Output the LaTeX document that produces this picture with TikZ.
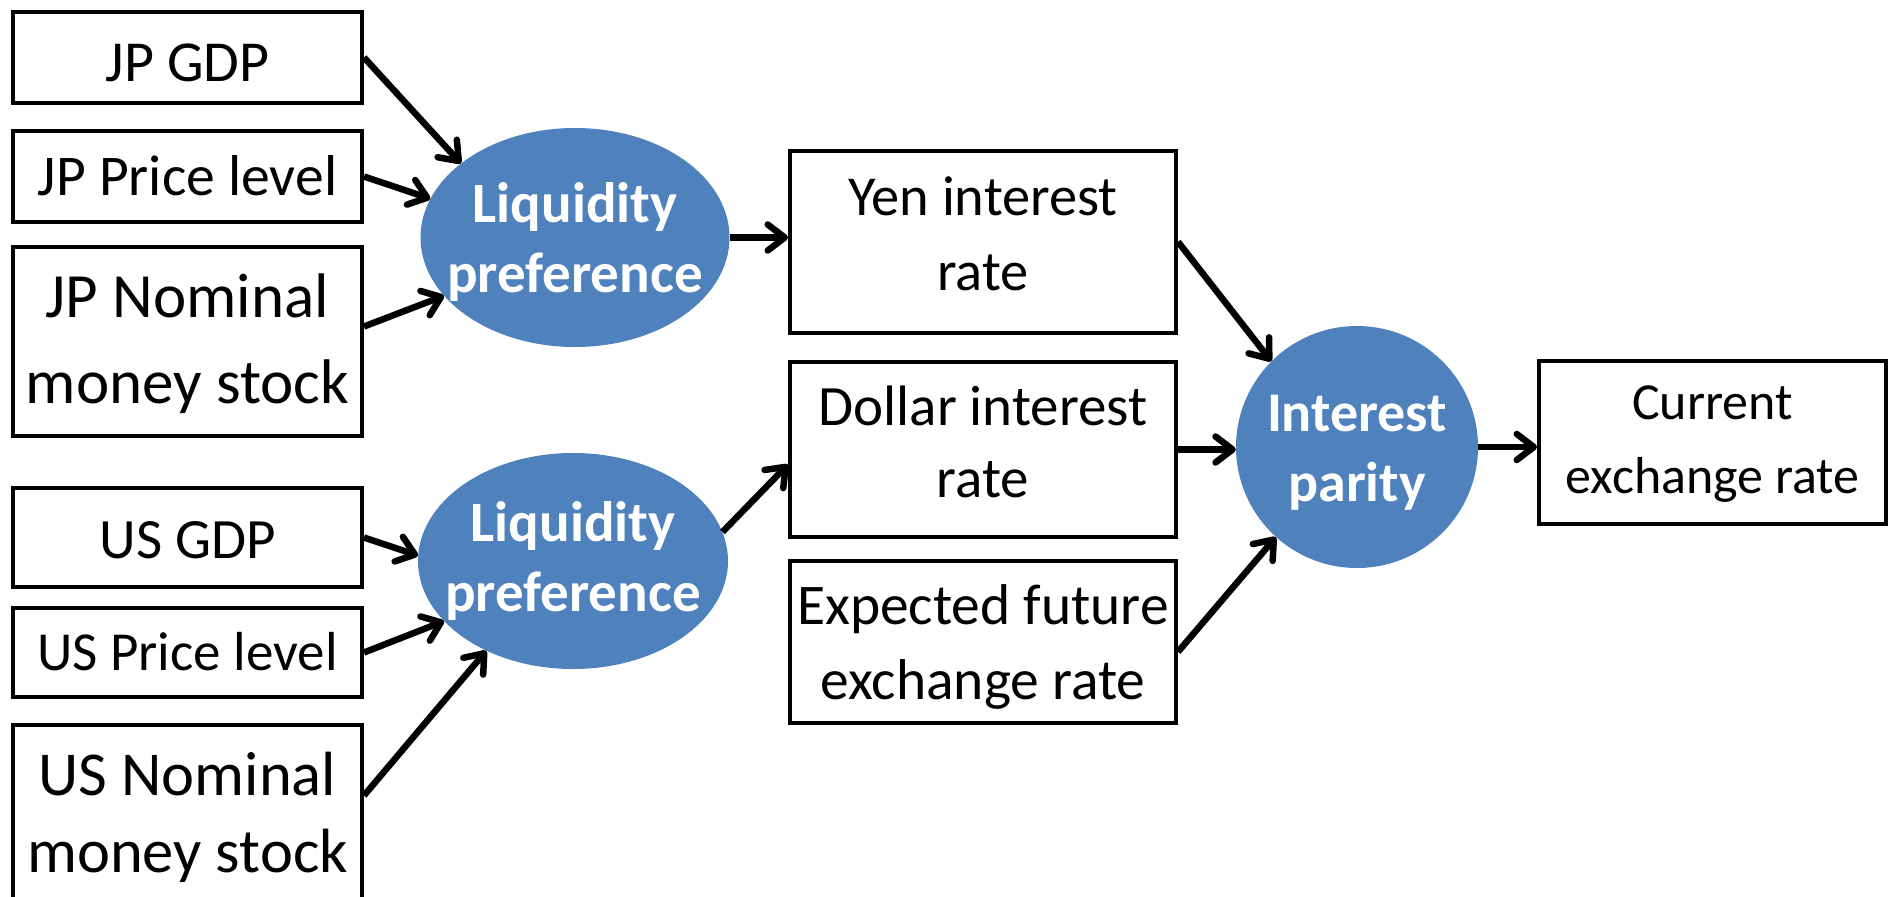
\documentclass[tikz,border=0pt]{standalone}
\usepackage{fontspec}
\setmainfont{Carlito}
\usetikzlibrary{arrows.meta,shapes.geometric,calc}
\definecolor{accent}{HTML}{4F81BD}
\newcommand{\topstrut}{\rule{0pt}{60pt}}
\begin{document}
\begin{tikzpicture}[x=1pt,y=-1pt,
  box/.style={draw=black, line width=4pt, rectangle, inner sep=0pt, fill=white},
  leftbox/.style={box, minimum width=349pt},
  midbox/.style={box, minimum width=386pt},
  blob/.style={ellipse, fill=accent, inner sep=0pt},
  txt/.style={anchor=north, inner sep=0pt, align=center},
  wtxt/.style={txt, text=white},
  arr/.style={draw=black, line width=6.5pt, -{Straight Barb[length=17pt,width=26pt,round]}}]
\fill[white] (0,0) rectangle (1888,897);
\useasboundingbox (0,0) rectangle (1888,897);
\clip (0,0) rectangle (1888,897);

% left boxes
\node[leftbox, minimum height=91pt] (jpgdp) at (187.5,57.5) {};
\node[leftbox, minimum height=91pt] (jpprice) at (187.5,176.5) {};
\node[leftbox, minimum height=189pt] (jpnom) at (187.5,341.5) {};
\node[leftbox, minimum height=99pt] (usgdp) at (187.5,537.5) {};
\node[leftbox, minimum height=89pt] (usprice) at (187.5,652.5) {};
\node[leftbox, minimum height=189pt] (usnom) at (187.5,819.5) {};

\node[txt, font=\fontsize{58}{70}\selectfont] (jpgdpt) at (187.5,21) {\topstrut JP GDP};
\node[txt, font=\fontsize{57.6}{70}\selectfont] (jppricet) at (187.5,135) {\topstrut JP Price level};
\node[txt, font=\fontsize{63}{86.6}\selectfont] (jpnomt) at (187.5,257) {\topstrut JP Nominal\\money stock};
\node[txt, font=\fontsize{57}{70}\selectfont] (usgdpt) at (187.5,498) {\topstrut US GDP};
\node[txt, font=\fontsize{55}{70}\selectfont] (uspricet) at (187.5,610) {\topstrut US Price level};
\node[txt, font=\fontsize{62.5}{77}\selectfont] (usnomt) at (187.5,735) {\topstrut US Nominal\\money stock};

% liquidity preference ellipses
\node[blob, minimum width=309pt, minimum height=219pt] (lp1) at (575,237.5) {};
\node[blob, minimum width=310pt, minimum height=216pt] (lp2) at (573,561) {};
\node[wtxt, font=\bfseries\fontsize{57}{70}\selectfont] (lp1t) at (575,162) {\topstrut Liquidity\\preference};
\node[wtxt, font=\bfseries\fontsize{57}{70}\selectfont] (lp2t) at (573,481.7) {\topstrut Liquidity\\preference};

% middle boxes
\node[midbox, minimum height=182.4pt] (yen) at (983,241.8) {};
\node[midbox, minimum height=175pt] (dollar) at (983,449.5) {};
\node[midbox, minimum height=162.5pt] (expected) at (983,641.8) {};
\node[txt, font=\fontsize{56.4}{75.4}\selectfont] (yent) at (983,155.3) {\topstrut Yen interest\\rate};
\node[txt, font=\fontsize{57}{71.4}\selectfont] (dollart) at (983,365.6) {\topstrut Dollar interest\\rate};
\node[txt, font=\fontsize{57.5}{75}\selectfont] (expt) at (983,564) {\topstrut Expected future\\exchange rate};

% interest parity
\node[circle, fill=accent, inner sep=0pt, minimum size=242pt] (ip) at (1357,447) {};
\node[wtxt, font=\bfseries\fontsize{56}{69.4}\selectfont] (ipt) at (1357,371.6) {\topstrut Interest\\parity};

% current exchange rate
\node[box, minimum width=347pt, minimum height=162.6pt] (cur) at (1712.5,442.3) {};
\node[txt, font=\fontsize{52}{73.3}\selectfont] (curt) at (1712.5,359.7) {\topstrut Current\\exchange rate};

% connectors
\draw[arr] (jpgdp.east) -- (lp1.147);
\draw[arr] (jpprice.east) -- (lp1.165);
\draw[arr] ([yshift=15pt]jpnom.east) -- (lp1.204);
\draw[arr] (lp1.east) -- (lp1.east -| yen.west);
\draw[arr] (usgdp.east) -- (lp2.178);
\draw[arr] (usprice.east) -- (lp2.205);
\draw[arr] ([yshift=24pt]usnom.east) -- (lp2.226);
\draw[arr] (lp2.11) -- ([yshift=-15pt]dollar.west);
\draw[arr] (yen.east) -- (ip.135);
\draw[arr] (dollar.east) -- (dollar.east -| ip.west);
\draw[arr] ([yshift=-10pt]expected.east) -- (ip.228);
\draw[arr] (ip.east) -- (ip.east -| cur.west);
\end{tikzpicture}
\end{document}
